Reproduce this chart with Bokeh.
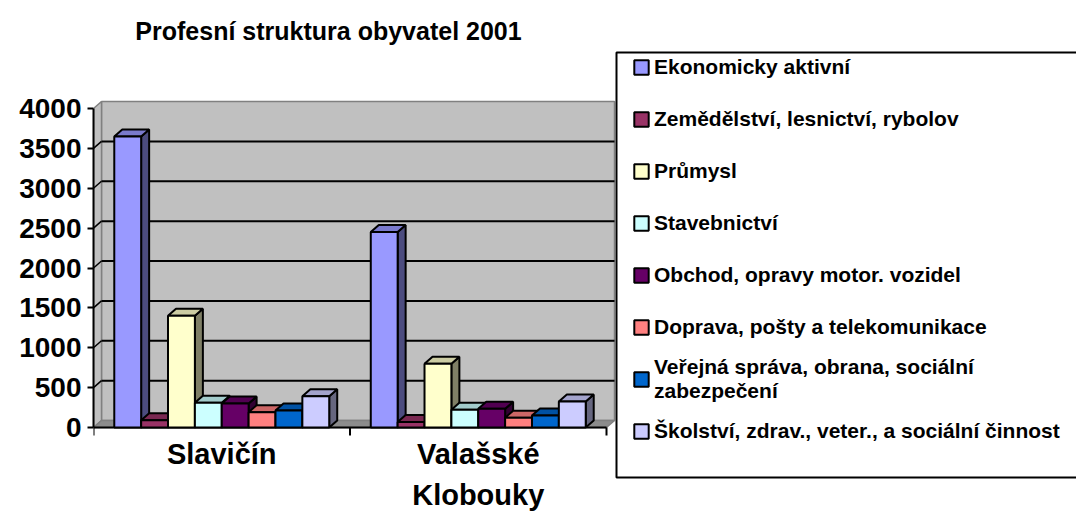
from bokeh.plotting import figure
from bokeh.models import (Range1d, FixedTicker, LinearAxis, Legend, LegendItem,
                          Label, BoxAnnotation)
from bokeh.core.properties import value
from bokeh.embed import file_html
from bokeh.resources import INLINE

# ---------------- data ----------------
title_text = "Profesní struktura obyvatel 2001"
categories = ["Slavičín", "Valašské\nKlobouky"]
series_names = [
    "Ekonomicky aktivní",
    "Zemědělství, lesnictví, rybolov",
    "Průmysl",
    "Stavebnictví",
    "Obchod, opravy motor. vozidel",
    "Doprava, pošty a telekomunikace",
    "Veřejná správa, obrana, sociální\nzabezpečení",
    "Školství, zdrav., veter., a sociální činnost",
]
ekonomicky_aktivni = [3650, 2450]
zemedelstvi = [90, 70]
prumysl = [1400, 800]
stavebnictvi = [310, 222]
obchod = [300, 234]
doprava = [192, 122]
verejna_sprava = [213, 150]
skolstvi = [392, 326]
series_values = [ekonomicky_aktivni, zemedelstvi, prumysl, stavebnictvi,
                 obchod, doprava, verejna_sprava, skolstvi]
colors = ["#9999FF", "#993366", "#FFFFCC", "#CCFFFF",
          "#660066", "#FF8080", "#0066CC", "#CCCCFF"]
y_ticks = [0, 500, 1000, 1500, 2000, 2500, 3000, 3500, 4000]

# ---------------- layout constants (pixels) ----------------
W, H = 1076, 516
LEFT = 93                 # room for the value axis
ZERO_FROM_BOTTOM = 89     # zero line position above the canvas bottom
PX_X = 256.5              # pixels per category
PX_Y = 0.07975            # pixels per unit
frame_w = W - LEFT
x_end = frame_w / PX_X
y_start = -ZERO_FROM_BOTTOM / PX_Y
y_end = (H - ZERO_FROM_BOTTOM) / PX_Y
DX = 8 / PX_X
DY = 7 / PX_Y
TICK = 8 / PX_Y
LABEL_Y = -10 / PX_Y
GAP = 0.081
BW = (1 - 2 * GAP) / len(series_names)
NCAT = len(categories)
YMAX = y_ticks[-1]
FONT = "Liberation Sans"


def shade(hexcol, f):
    h = hexcol.lstrip("#")
    r, g, b = (int(h[i:i + 2], 16) for i in (0, 2, 4))
    return "#%02x%02x%02x" % (int(r * f), int(g * f), int(b * f))


p = figure(width=W, height=H, x_range=Range1d(0, x_end), y_range=Range1d(y_start, y_end),
           x_axis_type=None, y_axis_type=None, toolbar_location=None,
           output_backend="svg", min_border_left=LEFT, min_border_right=0,
           min_border_top=0, min_border_bottom=0)
p.outline_line_color = None
p.background_fill_color = "white"
p.border_fill_color = "white"

# walls and floor
wall_fill, wall_line = "#C0C0C0", "#808080"
p.patch([DX, NCAT + DX, NCAT + DX, DX], [DY, DY, YMAX + DY, YMAX + DY],
        fill_color=wall_fill, line_color=wall_line, line_width=1.5)
p.patch([0, 0, DX, DX], [0, YMAX, YMAX + DY, DY],
        fill_color=wall_fill, line_color=wall_line, line_width=1.5)
p.patch([0, NCAT, NCAT + DX, DX], [0, 0, DY, DY],
        fill_color="#8C8C8C", line_color=wall_line, line_width=1.5)

# gridlines on the walls
gt = y_ticks[1:-1]
p.segment(x0=[DX] * len(gt), y0=[t + DY for t in gt], x1=[NCAT + DX] * len(gt),
          y1=[t + DY for t in gt], line_color="black", line_width=2)
p.segment(x0=[0] * len(gt), y0=gt, x1=[DX] * len(gt), y1=[t + DY for t in gt],
          line_color="black", line_width=1.5)

# category axis: baseline, boundary ticks, labels
bounds = list(range(NCAT + 1))
p.segment(x0=[0], y0=[0], x1=[NCAT], y1=[0], line_color="black", line_width=2)
p.segment(x0=bounds, y0=[0] * len(bounds), x1=bounds, y1=[-TICK] * len(bounds),
          line_color="black", line_width=2)
centers = [i + 0.5 for i in range(NCAT)]
p.text(x=centers, y=[LABEL_Y] * NCAT, text=categories, text_align="center",
       text_baseline="top", text_font=value(FONT), text_font_size="29px",
       text_font_style="bold", text_color="black", text_line_height=1.3)

# bars
legend_items = []
for j, (name, vals, col) in enumerate(zip(series_names, series_values, colors)):
    lefts = [i + GAP + j * BW for i in range(NCAT)]
    rights = [l + BW for l in lefts]
    side_xs = [[r, r, r + DX, r + DX] for r in rights]
    side_ys = [[0, v, v + DY, DY] for v in vals]
    top_xs = [[l, l + DX, r + DX, r] for l, r in zip(lefts, rights)]
    top_ys = [[v, v + DY, v + DY, v] for v in vals]
    p.patches(side_xs, side_ys, fill_color=shade(col, 0.5), line_color="black", line_width=2)
    p.patches(top_xs, top_ys, fill_color=shade(col, 0.8), line_color="black", line_width=2)
    r = p.quad(left=lefts, right=rights, bottom=[0] * NCAT, top=vals,
               fill_color=col, line_color="black", line_width=2)
    legend_items.append(LegendItem(label=name, renderers=[r]))

# value axis
yaxis = LinearAxis(ticker=FixedTicker(ticks=y_ticks), bounds=(0, YMAX),
                   major_tick_out=6, major_tick_in=0, minor_tick_out=0, minor_tick_in=0,
                   axis_line_width=2, major_tick_line_width=2, major_label_standoff=6,
                   major_label_text_font=FONT, major_label_text_font_size="28px",
                   major_label_text_font_style="bold", major_label_text_color="black")
p.add_layout(yaxis, "left")

# title
title = Label(x=235, y=486, x_units="screen", y_units="screen", text=title_text,
              text_align="center", text_baseline="middle", text_font=FONT,
              text_font_size="25px", text_font_style="bold", text_color="black")
p.add_layout(title)

# legend frame and legend
box = BoxAnnotation(left=523, right=frame_w + 20, top=464, bottom=39,
                    left_units="screen", right_units="screen",
                    top_units="screen", bottom_units="screen",
                    fill_color="white", fill_alpha=1, line_color="black",
                    line_alpha=1, line_width=2)
p.add_layout(box)

legend = Legend(items=legend_items, location=(534, 56), padding=5, spacing=4,
                glyph_width=18, glyph_height=18, label_height=48, label_standoff=4,
                label_text_font=FONT, label_text_font_size="21px",
                label_text_font_style="bold", label_text_color="black",
                label_text_line_height=1.05, background_fill_alpha=0,
                border_line_alpha=0, margin=0)
p.add_layout(legend)

open("out.html", "w").write(file_html(p, INLINE, title=title_text))
